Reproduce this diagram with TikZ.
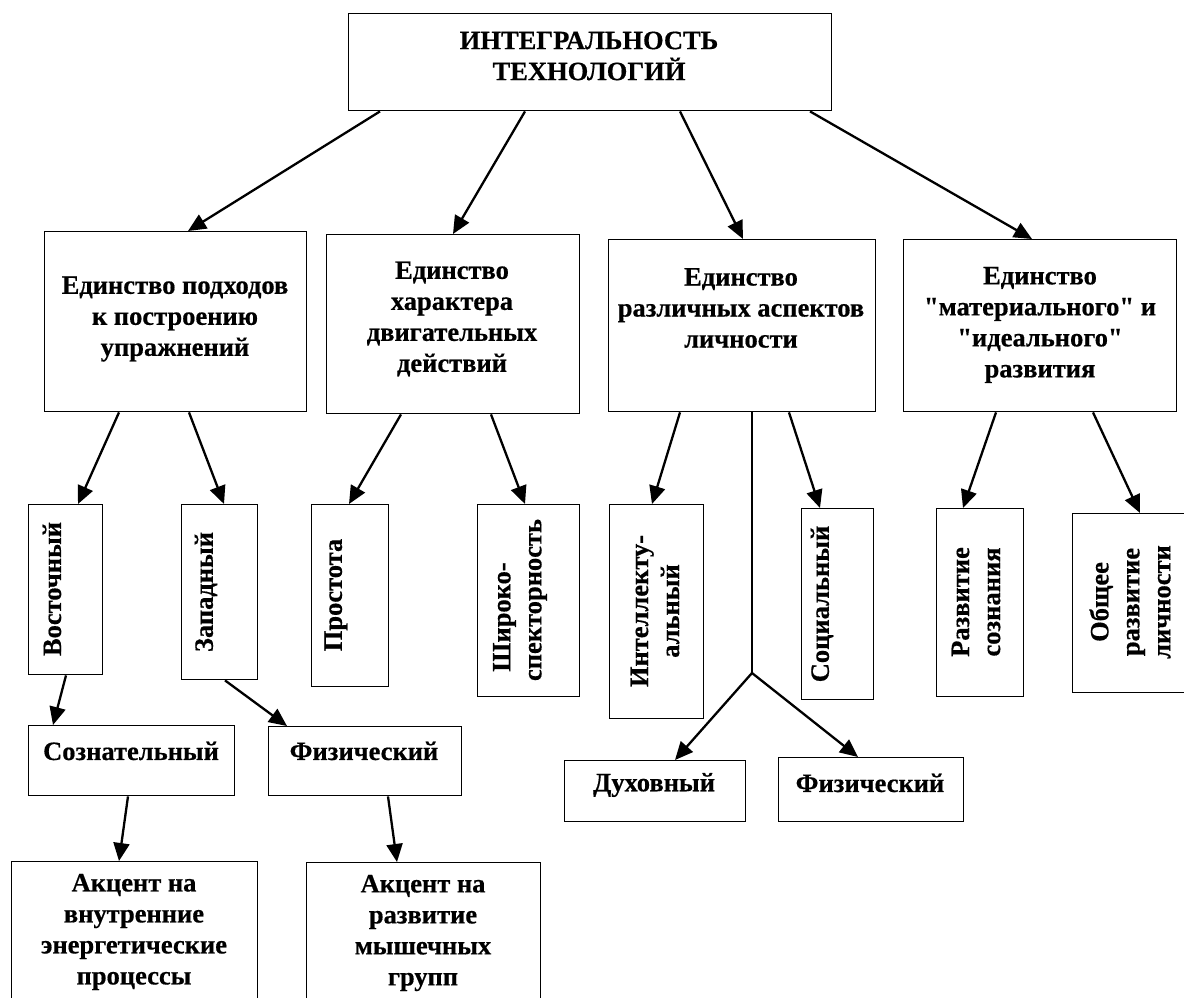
\documentclass[tikz,border=0pt]{standalone}
\usepackage{fontspec}
\newfontfamily\diagfont[BoldFeatures={FakeBold=0.5}]{Liberation Serif}
\usetikzlibrary{arrows.meta}
\begin{document}
\begin{tikzpicture}[x=1pt,y=-1pt,
  box/.style={draw, line width=1.4pt, inner sep=0pt, rectangle, anchor=north west},
  txt/.style={font=\diagfont\bfseries\fontsize{26.5}{31}\selectfont, align=center, inner sep=0pt},
  vtxt/.style={txt, rotate=90},
  arr/.style={line width=2.3pt, -{Triangle[length=18pt,width=16pt]}},
  thinline/.style={line width=1.2pt}]
\useasboundingbox (0,0) rectangle (1184,998);
\clip (0,0) rectangle (1184,998);
% top
\node[box, minimum width=483pt, minimum height=97pt] (T) at (348,13) {};
\node[txt] (Tt) at (589,56) {ИНТЕГРАЛЬНОСТЬ\\ТЕХНОЛОГИЙ};
% level 2
\node[box, minimum width=262pt, minimum height=180pt] (A) at (44,231) {};
\node[txt] (At) at (175,319) {Единство подходов\\к построению\\упражнений};
\node[box, minimum width=253pt, minimum height=179pt] (B) at (326,234) {};
\node[txt] (Bt) at (452,319) {Единство\\характера\\двигательных\\действий};
\node[box, minimum width=267pt, minimum height=172pt] (C) at (608,239) {};
\node[txt] (Ct) at (741,308) {Единство\\различных аспектов\\личности};
\node[box, minimum width=273pt, minimum height=172pt] (D) at (903,239) {};
\node[txt] (Dt) at (1040,325) {Единство\\"материального" и\\"идеального"\\развития};
% level 3 vertical
\node[box, minimum width=74pt, minimum height=170pt] (V1) at (28,504) {};
\node[vtxt] (V1t) at (52,589) {Восточный};
\node[box, minimum width=76pt, minimum height=175pt] (V2) at (181,504) {};
\node[vtxt] (V2t) at (206,592) {Западный};
\node[box, minimum width=77pt, minimum height=182pt] (V3) at (311,504) {};
\node[vtxt] (V3t) at (336,595) {Простота};
\node[box, minimum width=102pt, minimum height=192pt] (V4) at (477,504) {};
\node[vtxt] (V4t) at (520,600) {Широко-\rule{34pt}{0pt}\\спекторность};
\node[box, minimum width=94pt, minimum height=214pt] (V5) at (609,504) {};
\node[vtxt] (V5t) at (655,611) {Интеллекту-\\альный};
\node[box, minimum width=72pt, minimum height=191pt] (V6) at (801,508) {};
\node[vtxt] (V6t) at (822,604) {Социальный};
\node[box, minimum width=87pt, minimum height=188pt] (V7) at (936,508) {};
\node[vtxt] (V7t) at (976,602) {Развитие\\сознания};
\node[box, minimum width=120pt, minimum height=179pt] (V8) at (1072,513) {};
\node[vtxt] (V8t) at (1130,602) {Общее\\развитие\\личности};
% level 4
\node[box, minimum width=206pt, minimum height=70pt] (S1) at (28,725) {};
\node[txt] (S1t) at (131,751) {Сознательный};
\node[box, minimum width=193pt, minimum height=69pt] (F1) at (268,726) {};
\node[txt] (F1t) at (364,751) {Физический};
\node[box, minimum width=181pt, minimum height=61pt] (D1) at (564,760) {};
\node[txt] (D1t) at (654,785) {Духовный};
\node[box, minimum width=185pt, minimum height=64pt] (F2) at (778,757) {};
\node[txt] (F2t) at (870,783) {Физический};
% level 5
\node[box, minimum width=246pt, minimum height=160pt] (A1) at (11,861) {};
\node[txt] (A1t) at (134,932) {Акцент на\\внутренние\\энергетические\\процессы};
\node[box, minimum width=234pt, minimum height=160pt] (A2) at (306,862) {};
\node[txt] (A2t) at (423,933) {Акцент на\\развитие\\мышечных\\групп};
% connectors
\draw[arr] ([xshift=32pt]T.south west) -- ([xshift=144pt]A.north west);
\draw[arr] ([xshift=177pt]T.south west) -- ([xshift=127pt]B.north west);
\draw[arr] ([xshift=332pt]T.south west) -- ([xshift=135pt]C.north west);
\draw[arr] ([xshift=462pt]T.south west) -- ([xshift=129pt]D.north west);
\draw[arr] ([xshift=75pt]A.south west) -- ([xshift=50pt]V1.north west);
\draw[arr] ([xshift=145pt]A.south west) -- ([xshift=43pt]V2.north west);
\draw[arr] ([xshift=75pt]B.south west) -- ([xshift=38pt]V3.north west);
\draw[arr] ([xshift=165pt]B.south west) -- ([xshift=48pt]V4.north west);
\draw[arr] ([xshift=72pt]C.south west) -- ([xshift=43pt]V5.north west);
\draw[arr] ([xshift=181pt]C.south west) -- ([xshift=19pt]V6.north west);
\coordinate (J) at (752,673);
\draw[thinline] ([xshift=144pt]C.south west) -- (J);
\draw[arr] (J) -- ([xshift=111pt]D1.north west);
\draw[arr] (J) -- ([xshift=80pt]F2.north west);
\draw[arr] ([xshift=93pt]D.south west) -- ([xshift=27pt]V7.north west);
\draw[arr] ([xshift=190pt]D.south west) -- ([xshift=68pt]V8.north west);
\draw[arr] ([xshift=38pt]V1.south west) -- ([xshift=25pt]S1.north west);
\draw[arr] ([xshift=44pt]V2.south west) -- ([xshift=19pt]F1.north west);
\draw[arr] ([xshift=100pt]S1.south west) -- ([xshift=108pt]A1.north west);
\draw[arr] ([xshift=120pt]F1.south west) -- ([xshift=91pt]A2.north west);
\end{tikzpicture}
\end{document}
